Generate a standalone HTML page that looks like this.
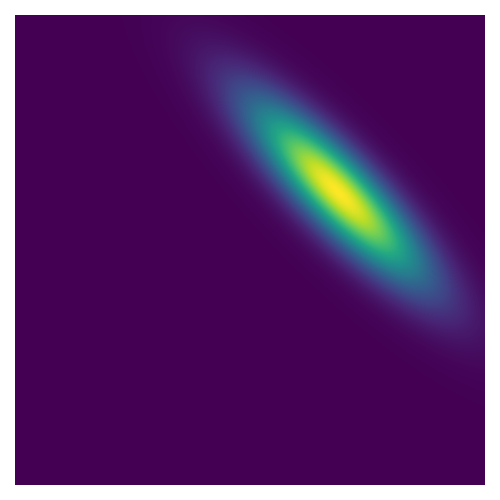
<!DOCTYPE html>
<html>
<head>
<meta charset="utf-8">
<style>
  html, body { margin: 0; padding: 0; background: #ffffff; }
  #chart { position: relative; width: 500px; height: 500px; background: #ffffff; }
  #heatmap { position: absolute; left: 15px; top: 15px; width: 470px; height: 470px; }
</style>
</head>
<body>
<div id="chart">
  <canvas id="heatmap" width="470" height="470"></canvas>
</div>
<script>
// Gaussian density parameters (in unit plot coordinates, x right, y down)
const meanXY = [0.687, 0.376];
const sigmaMajorMinor = [0.177, 0.05];
const majorAngleDeg = [46];
const gridSize = [470, 470];
// viridis colour stops
const viridisStops = [
  [68,1,84],[72,35,116],[64,67,135],[52,94,141],[41,120,142],
  [32,144,140],[34,167,132],[68,190,112],[121,209,81],[189,222,38],[253,231,37]
];

function viridis(t) {
  t = Math.max(0, Math.min(1, t));
  const p = t * (viridisStops.length - 1);
  const i = Math.min(Math.floor(p), viridisStops.length - 2);
  const f = p - i;
  const a = viridisStops[i], b = viridisStops[i + 1];
  return [a[0] + (b[0] - a[0]) * f, a[1] + (b[1] - a[1]) * f, a[2] + (b[2] - a[2]) * f];
}

const canvas = document.getElementById('heatmap');
const ctx = canvas.getContext('2d');
const W = gridSize[0], H = gridSize[1];
const img = ctx.createImageData(W, H);
const ang = majorAngleDeg[0] * Math.PI / 180;
const ca = Math.cos(ang), sa = Math.sin(ang);
for (let py = 0; py < H; py++) {
  for (let px = 0; px < W; px++) {
    const dx = (px + 0.5) / W - meanXY[0];
    const dy = (py + 0.5) / H - meanXY[1];
    const u = dx * ca + dy * sa;
    const v = -dx * sa + dy * ca;
    const val = Math.exp(-0.5 * ((u / sigmaMajorMinor[0]) ** 2 + (v / sigmaMajorMinor[1]) ** 2));
    const c = viridis(val);
    const k = (py * W + px) * 4;
    img.data[k] = c[0]; img.data[k + 1] = c[1]; img.data[k + 2] = c[2]; img.data[k + 3] = 255;
  }
}
ctx.putImageData(img, 0, 0);
</script>
</body>
</html>
